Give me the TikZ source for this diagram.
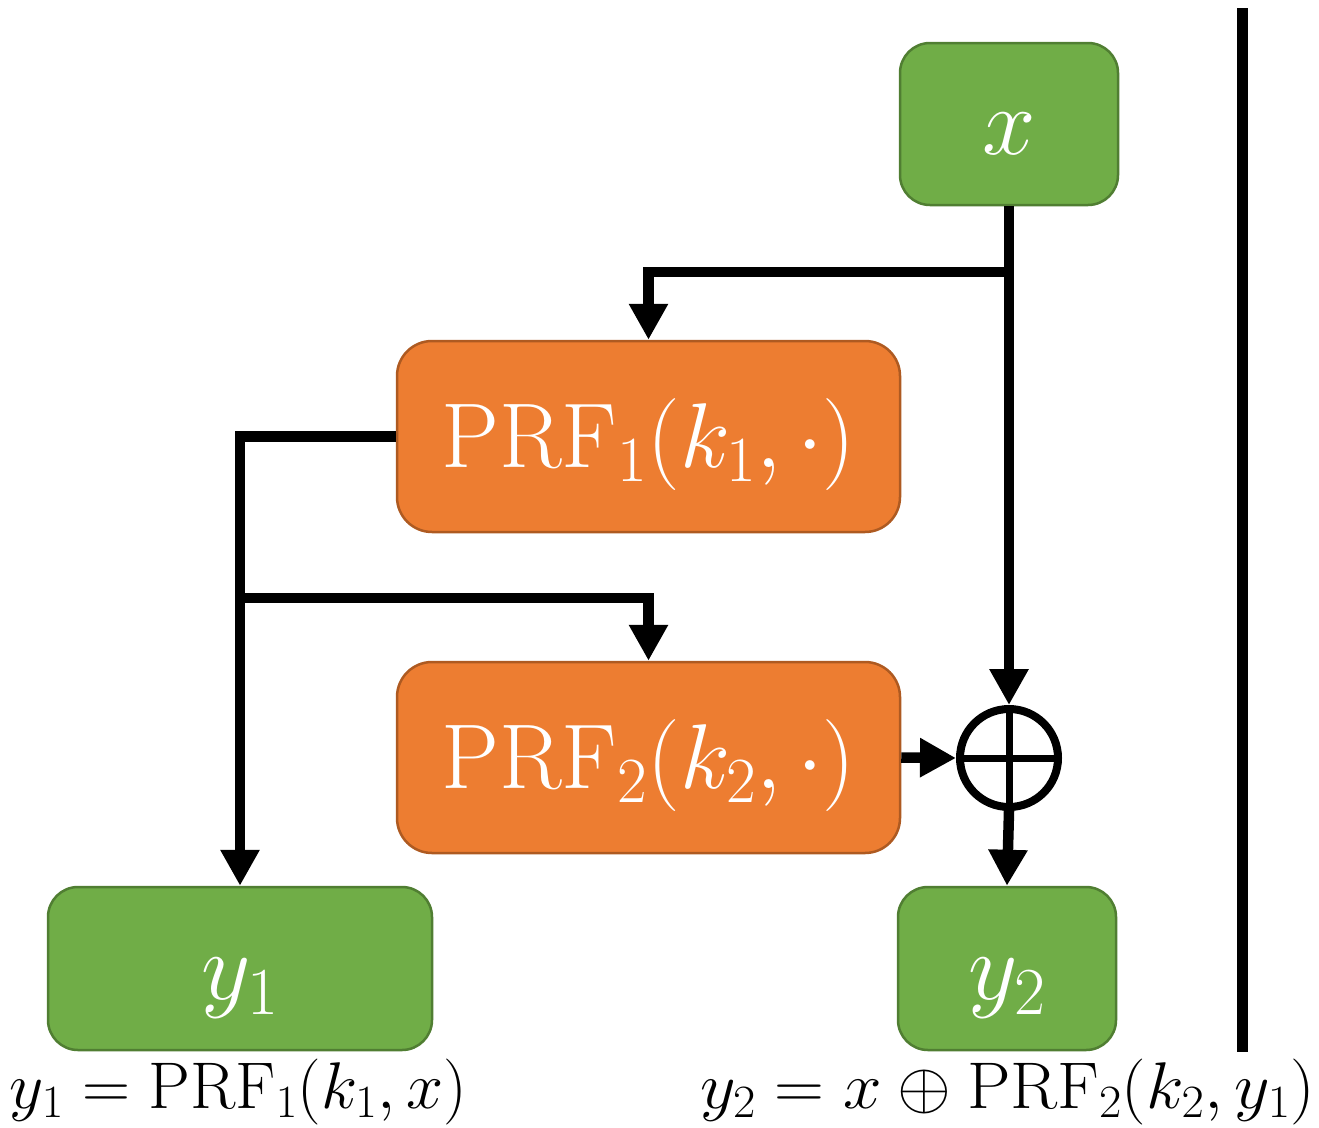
\RequirePackage{fix-cm}
\documentclass[tikz,border=0pt]{standalone}
\usepackage{amsmath}
\usetikzlibrary{arrows.meta}
\definecolor{gfill}{HTML}{70AD47}
\definecolor{gline}{HTML}{507E32}
\definecolor{ofill}{HTML}{ED7D31}
\definecolor{oline}{HTML}{AE5A21}
\newcommand{\dn}[2]{\raisebox{-#1}[\height][\depth]{#2}}
\begin{document}
\begin{tikzpicture}[x=1pt,y=-1pt,
  gbox/.style={draw=gline, fill=gfill, line width=2.5pt, rounded corners=30pt, text=white, inner sep=0pt, font=\fontsize{96}{100}\selectfont},
  obox/.style={draw=oline, fill=ofill, line width=2.5pt, rounded corners=35pt, text=white, inner sep=0pt, minimum width=503pt, minimum height=191pt, font=\fontsize{92}{100}\selectfont},
  arr/.style={line width=10.5pt, -{Triangle[length=36pt,width=37pt]}},
  lab/.style={font=\fontsize{66}{70}\selectfont, anchor=base, inner sep=0pt}]
\path[use as bounding box] (0,0) rectangle (1319,1127);
\node[gbox, minimum width=218pt, minimum height=162pt] (x) at (1009,124) {\dn{10pt}{$x$}};
\node[obox] (prf1) at (648.5,436.5) {\dn{8pt}{$\mathrm{PRF}_1(k_1,\cdot)$}};
\node[obox] (prf2) at (648.5,757.5) {\dn{8pt}{$\mathrm{PRF}_2(k_2,\cdot)$}};
\node[gbox, minimum width=384pt, minimum height=163pt] (y1) at (240,968.5) {\dn{20pt}{$y_1$}};
\node[gbox, minimum width=218pt, minimum height=163pt] (y2) at (1007,968.5) {\dn{20pt}{$y_2$}};
\node[circle, draw, line width=8pt, minimum size=98pt, inner sep=0pt] (xor) at (1009,758) {};
\draw[line width=7pt] (xor.north) -- (xor.south) (xor.west) -- (xor.east);
\coordinate (b1) at (1009,272);
\coordinate (b2) at (241,598);
\draw[arr] (x.south) -- (xor.north);
\draw[arr] (b1) -| (prf1.north);
\draw[arr] (prf1.west) -| (y1.north);
\draw[arr] (b2) -| (prf2.north);
\draw[arr] (prf2.east) -- (xor.west);
\draw[arr] (xor.south) -- (y2.north);
\coordinate (vt) at (1242,8);
\coordinate (vb) at (1242,1052);
\draw[line width=11pt] (vt) -- (vb);
\node[lab] (l1) at (238.5,1108) {\resizebox{457pt}{\height}{$y_1 = \mathrm{PRF}_1(k_1,x)$}};
\node[lab] (l2) at (1007.5,1108) {\resizebox{615pt}{\height}{$y_2 = x \oplus \mathrm{PRF}_2(k_2,y_1)$}};
\end{tikzpicture}
\end{document}
